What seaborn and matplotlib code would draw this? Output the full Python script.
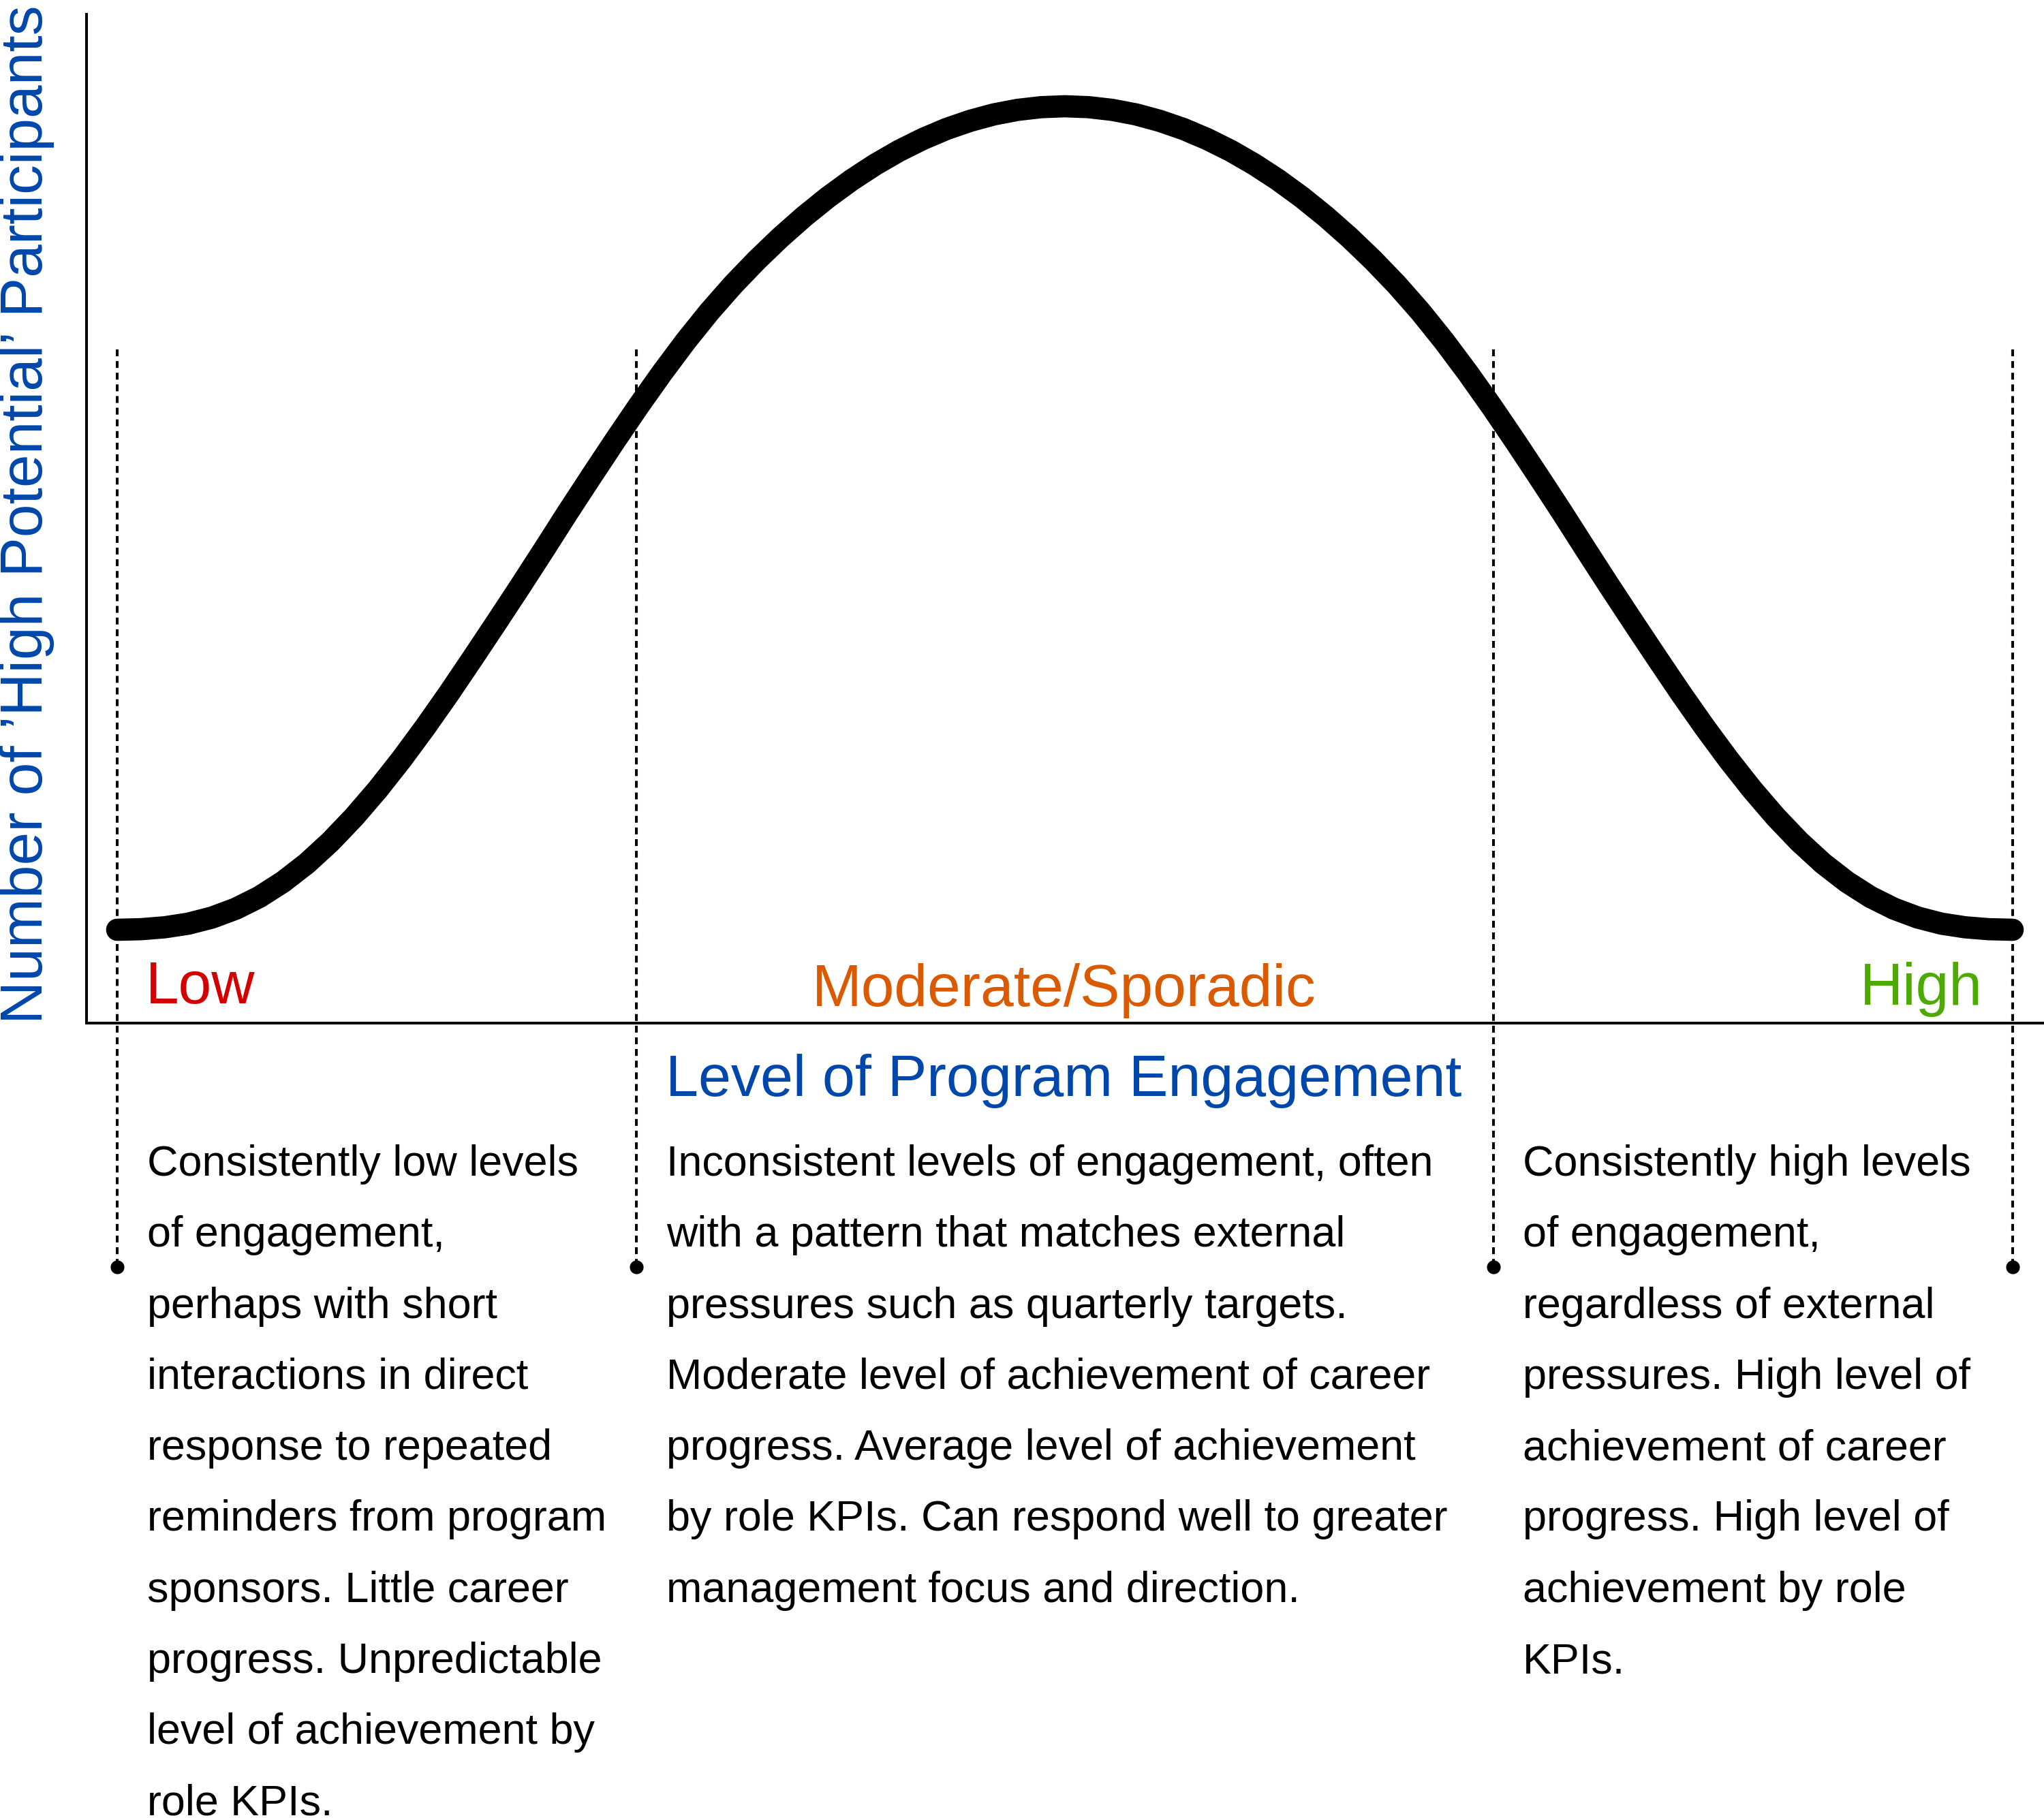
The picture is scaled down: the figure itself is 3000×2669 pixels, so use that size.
import matplotlib
matplotlib.use("Agg")
import matplotlib.pyplot as plt
import seaborn as sns

# ---------------- data ----------------
engagement = [0, 1.25, 2.5, 3.75, 5, 6.25, 7.5, 8.75, 10, 11.25, 12.5, 13.75, 15, 16.25,
              17.5, 18.75, 20, 21.25, 22.5, 23.75, 25, 26.25, 27.5, 28.75, 30, 31.25,
              32.5, 33.75, 35, 36.25, 37.5, 38.75, 40, 41.25, 42.5, 43.75, 45, 46.25,
              47.5, 48.75, 50, 51.25, 52.5, 53.75, 55, 56.25, 57.5, 58.75, 60, 61.25,
              62.5, 63.75, 65, 66.25, 67.5, 68.75, 70, 71.25, 72.5, 73.75, 75, 76.25,
              77.5, 78.75, 80, 81.25, 82.5, 83.75, 85, 86.25, 87.5, 88.75, 90, 91.25,
              92.5, 93.75, 95, 96.25, 97.5, 98.75, 100]
participants = [0.0, 0.07, 0.3, 0.74, 1.48, 2.55, 3.98, 5.82, 8.05, 10.69, 13.7, 17.05,
                20.7, 24.6, 28.7, 32.96, 37.28, 41.65, 46.1, 50.61, 55.01, 59.35, 63.58,
                67.64, 71.49, 75.07, 78.34, 81.33, 84.09, 86.63, 88.95, 91.05, 92.93,
                94.59, 96.02, 97.24, 98.23, 99.01, 99.56, 99.89, 100.0,
                99.89, 99.56, 99.01, 98.23, 97.24, 96.02, 94.59, 92.93, 91.05, 88.95,
                86.63, 84.09, 81.33, 78.34, 75.07, 71.49, 67.64, 63.58, 59.35, 55.01,
                50.61, 46.1, 41.65, 37.28, 32.96, 28.7, 24.6, 20.7, 17.05, 13.7, 10.69,
                8.05, 5.82, 3.98, 2.55, 1.48, 0.74, 0.3, 0.07, 0.0]
segment_bounds = [0, 27.4, 72.6, 100]

segment_labels = ["Low", "Moderate/Sporadic", "High"]
segment_colors = ["#D40000", "#D95A00", "#4CAA00"]

y_label = "Number of \u2019High Potential\u2019 Participants"
x_label = "Level of Program Engagement"

desc_low = ["Consistently low levels", "of engagement,", "perhaps with short",
            "interactions in direct", "response to repeated", "reminders from program",
            "sponsors. Little career", "progress. Unpredictable",
            "level of achievement by", "role KPIs."]
desc_mid = ["Inconsistent levels of engagement, often",
            "with a pattern that matches external",
            "pressures such as quarterly targets.",
            "Moderate level of achievement of career",
            "progress. Average level of achievement",
            "by role KPIs. Can respond well to greater",
            "management focus and direction."]
desc_high = ["Consistently high levels", "of engagement,", "regardless of external",
             "pressures. High level of", "achievement of career",
             "progress. High level of", "achievement by role", "KPIs."]

BLUE = "#0047AB"

# ---------------- figure ----------------
sns.set_theme(style="white")
plt.rcParams["font.family"] = ["Liberation Sans", "DejaVu Sans"]

W, H = 3000, 2669
fig = plt.figure(figsize=(W / 100, H / 100), dpi=100)
fig.patch.set_facecolor("white")


def fx(px):
    return px / W


def fy(py):
    return 1 - py / H


ax_left, ax_right, ax_top, ax_bottom = 127, 3000, 21, 1502
ax = fig.add_axes([fx(ax_left), fy(ax_bottom), (ax_right - ax_left) / W,
                   (ax_bottom - ax_top) / H])
ax.set_facecolor("white")

# data -> pixel mapping: x 0..100 -> 172..2954 ; y 0..100 -> 1365..156
px_per_x = (2954 - 172) / 100.0
px_per_y = (1365 - 156) / 100.0
ax.set_xlim(-(172 - ax_left) / px_per_x, (ax_right - 172) / px_per_x)
ax.set_ylim(-(ax_bottom - 1365) / px_per_y, (1365 - ax_top) / px_per_y)

for s in ["top", "right"]:
    ax.spines[s].set_visible(False)
for s in ["left", "bottom"]:
    ax.spines[s].set_color("black")
    ax.spines[s].set_linewidth(2.9)
ax.set_xticks([])
ax.set_yticks([])
ax.grid(False)

# dotted separators, extending beyond the axes
y_top = (1365 - 513) / px_per_y
y_dot = (1365 - 1860) / px_per_y
for xb in segment_bounds:
    ax.plot([xb, xb], [y_top, y_dot], color="black", lw=2.9,
            linestyle=(0, (2.5, 1.75)), clip_on=False, zorder=1)
ax.scatter(segment_bounds, [y_dot] * len(segment_bounds), s=14.5 ** 2,
           color="black", clip_on=False, zorder=2, linewidths=0)

# bell curve
sns.lineplot(x=engagement, y=participants, ax=ax, color="black", linewidth=23.5,
             solid_capstyle="round", solid_joinstyle="round", sort=False, zorder=3)

# segment labels
lab_kw = dict(fontsize=63, va="baseline")
fig.text(fx(214), fy(1473), segment_labels[0], color=segment_colors[0], ha="left", **lab_kw)
fig.text(fx(1562), fy(1477), segment_labels[1], color=segment_colors[1], ha="center", **lab_kw)
fig.text(fx(2910), fy(1475), segment_labels[2], color=segment_colors[2], ha="right", **lab_kw)

# axis titles
fig.text(fx(1561), fy(1609), x_label, color=BLUE, fontsize=62, ha="center", va="baseline")
fig.text(fx(62), fy(1503), y_label, color=BLUE, fontsize=63, rotation=90,
         rotation_mode="anchor", ha="left", va="baseline")

# descriptions
first_base, step = 1726, 104.3
for x0, lines in [(216, desc_low), (978, desc_mid), (2235, desc_high)]:
    for i, line in enumerate(lines):
        fig.text(fx(x0), fy(first_base + i * step), line, fontsize=45.3, color="black",
                 ha="left", va="baseline")

fig.savefig("out.png", dpi=100, facecolor="white")
